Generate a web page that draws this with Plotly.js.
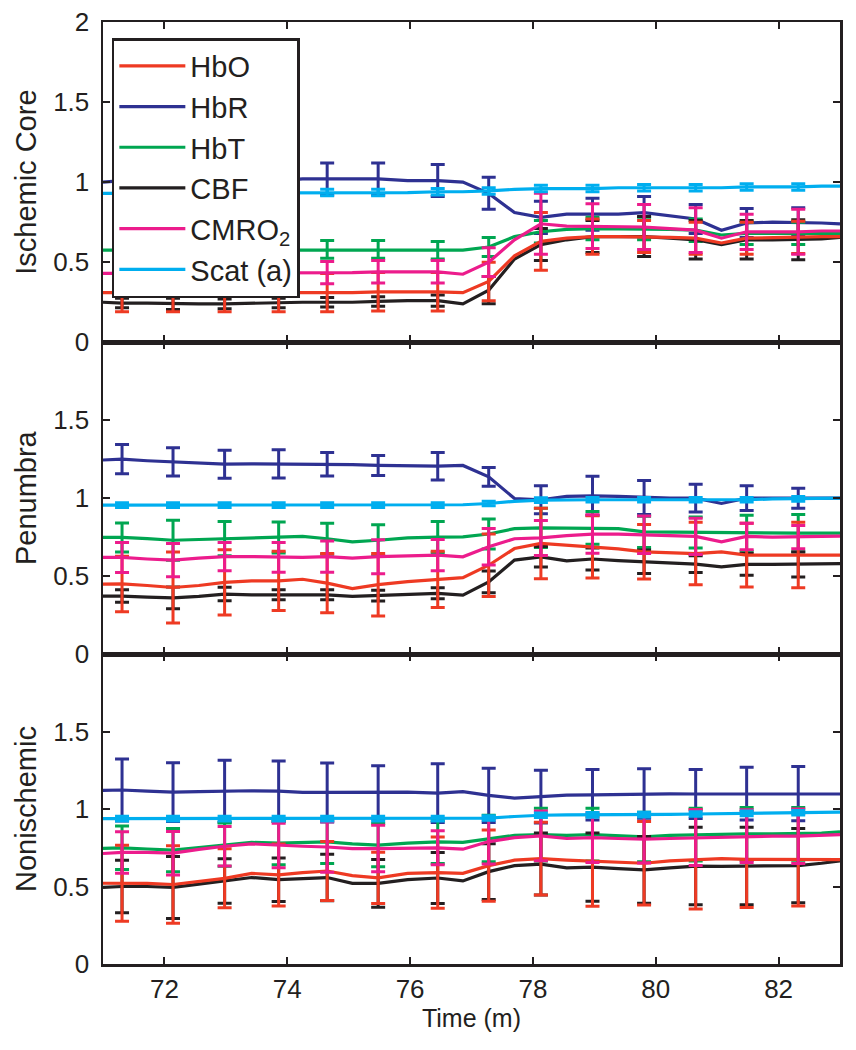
<!DOCTYPE html>
<html>
<head>
<meta charset="utf-8">
<script src="https://cdn.plot.ly/plotly-3.0.1.min.js"></script>
<style>
  body { margin: 0; background: #fff; }
  #chart { width: 856px; height: 1050px; }
</style>
</head>
<body>
<div id="chart"></div>
<script>
// time points (minutes); error bars sit on the odd indices
var times = [71.0, 71.31, 71.72, 72.14, 72.56, 72.98, 73.42, 73.86, 74.25, 74.65,
  75.06, 75.48, 75.96, 76.45, 76.86, 77.28, 77.7, 78.13, 78.55, 78.97,
  79.39, 79.81, 80.23, 80.65, 81.07, 81.48, 81.9, 82.32, 82.7, 83.0];

var seriesNames = ['HbO', 'HbR', 'HbT', 'CBF', 'CMRO<sub>2</sub>', 'Scat (a)'];
var seriesColors = ['#ee3a23', '#2e3192', '#00a651', '#231f20', '#ec1c8c', '#00aeef'];
var panelNames = ['Ischemic Core', 'Penumbra', 'Nonischemic'];

// ---- Ischemic core ----
var coreHbO = [0.31,0.31,0.31,0.31,0.31,0.31,0.31,0.31,0.31,0.31,0.31,0.315,0.315,0.315,0.31,0.38,0.54,0.63,0.65,0.66,0.66,0.66,0.655,0.65,0.62,0.65,0.655,0.655,0.66,0.66];
var coreHbR = [1.00,1.01,1.01,1.01,1.01,1.01,1.01,1.01,1.02,1.02,1.02,1.02,1.01,1.01,1.00,0.93,0.81,0.78,0.80,0.80,0.80,0.81,0.79,0.77,0.70,0.745,0.75,0.75,0.745,0.74];
var coreHbT = [0.575,0.575,0.575,0.575,0.575,0.575,0.575,0.575,0.575,0.58,0.58,0.58,0.575,0.575,0.575,0.595,0.66,0.69,0.705,0.71,0.71,0.71,0.705,0.70,0.67,0.68,0.68,0.68,0.68,0.68];
var coreCBF = [0.25,0.245,0.245,0.24,0.24,0.24,0.245,0.245,0.25,0.25,0.25,0.255,0.26,0.26,0.24,0.325,0.52,0.61,0.64,0.66,0.66,0.66,0.65,0.64,0.61,0.64,0.64,0.64,0.645,0.655];
var coreCMRO2 = [0.43,0.43,0.43,0.43,0.43,0.43,0.43,0.43,0.435,0.435,0.435,0.44,0.44,0.44,0.425,0.50,0.64,0.74,0.725,0.725,0.72,0.72,0.71,0.70,0.65,0.69,0.69,0.69,0.695,0.695];
var coreScat = [0.93,0.93,0.93,0.93,0.93,0.93,0.93,0.93,0.935,0.935,0.935,0.935,0.935,0.94,0.94,0.945,0.955,0.96,0.96,0.96,0.965,0.965,0.965,0.965,0.965,0.97,0.97,0.97,0.975,0.975];
var coreHbOErr = [0.12,0.12,0.12,0.12,0.12,0.12,0.12,0.12,0.18,0.11,0.10,0.10,0.10,0.10];
var coreHbRErr = [0.10,0.10,0.10,0.10,0.10,0.10,0.10,0.10,0.10,0.10,0.10,0.09,0.09,0.09];
var coreHbTErr = [0.055,0.055,0.055,0.055,0.055,0.055,0.055,0.06,0.07,0.07,0.07,0.07,0.07,0.07];
var coreCBFErr = [0.03,0.035,0.03,0.03,0.03,0.03,0.035,0.085,0.10,0.10,0.125,0.12,0.12,0.125];
var coreCMRO2Err = [0.07,0.07,0.07,0.07,0.07,0.07,0.07,0.09,0.19,0.14,0.14,0.14,0.11,0.14];
var coreScatErr = [0.02,0.02,0.02,0.02,0.02,0.02,0.02,0.02,0.02,0.02,0.02,0.02,0.02,0.02];

// ---- Penumbra ----
var penHbO = [0.449,0.45,0.44,0.427,0.44,0.46,0.47,0.47,0.48,0.455,0.42,0.445,0.465,0.479,0.49,0.57,0.677,0.71,0.70,0.688,0.675,0.656,0.65,0.645,0.655,0.635,0.635,0.635,0.635,0.635];
var penHbR = [1.245,1.25,1.24,1.233,1.225,1.218,1.22,1.22,1.22,1.218,1.215,1.21,1.205,1.205,1.21,1.137,0.998,0.99,1.012,1.015,1.012,1.004,1.0,1.0,0.966,1.0,1.0,1.0,1.0,1.0];
var penHbT = [0.748,0.748,0.74,0.73,0.735,0.74,0.745,0.748,0.755,0.74,0.72,0.73,0.745,0.75,0.752,0.77,0.805,0.81,0.81,0.81,0.805,0.784,0.782,0.78,0.78,0.775,0.776,0.776,0.776,0.776];
var penCBF = [0.372,0.372,0.365,0.36,0.37,0.385,0.38,0.38,0.38,0.38,0.37,0.375,0.385,0.39,0.378,0.463,0.603,0.624,0.598,0.61,0.60,0.592,0.585,0.577,0.56,0.575,0.575,0.575,0.58,0.58];
var penCMRO2 = [0.62,0.62,0.61,0.603,0.615,0.625,0.625,0.62,0.62,0.625,0.615,0.625,0.63,0.635,0.624,0.688,0.74,0.745,0.76,0.77,0.77,0.765,0.76,0.755,0.72,0.755,0.75,0.75,0.755,0.757];
var penScat = [0.955,0.955,0.955,0.955,0.955,0.955,0.955,0.955,0.955,0.955,0.955,0.955,0.955,0.955,0.958,0.966,0.98,0.987,0.99,0.99,0.99,0.99,0.99,0.99,0.985,0.99,0.995,0.995,1.0,1.0];
var penHbOErr = [0.178,0.227,0.21,0.19,0.19,0.2,0.18,0.2,0.226,0.2,0.175,0.2,0.205,0.21];
var penHbRErr = [0.094,0.09,0.09,0.09,0.075,0.064,0.088,0.06,0.09,0.125,0.109,0.089,0.079,0.064];
var penHbTErr = [0.093,0.128,0.11,0.1,0.1,0.1,0.1,0.096,0.126,0.105,0.1,0.1,0.115,0.12];
var penCBFErr = [0.04,0.07,0.043,0.032,0.032,0.034,0.035,0.07,0.066,0.07,0.075,0.053,0.07,0.08];
var penCMRO2Err = [0.096,0.107,0.09,0.095,0.1,0.109,0.1,0.117,0.112,0.123,0.12,0.117,0.085,0.075];
var penScatErr = [0.015,0.015,0.015,0.015,0.015,0.015,0.015,0.015,0.015,0.015,0.015,0.015,0.015,0.015];

// ---- Nonischemic ----
var nonHbO = [0.521,0.521,0.52,0.513,0.535,0.553,0.585,0.575,0.59,0.60,0.57,0.556,0.585,0.59,0.585,0.635,0.67,0.68,0.67,0.662,0.655,0.65,0.665,0.675,0.68,0.675,0.675,0.675,0.675,0.673];
var nonHbR = [1.12,1.123,1.115,1.109,1.112,1.115,1.118,1.115,1.108,1.107,1.108,1.109,1.109,1.103,1.112,1.088,1.071,1.08,1.09,1.092,1.095,1.1,1.098,1.097,1.097,1.1,1.1,1.1,1.1,1.097];
var nonHbT = [0.746,0.75,0.742,0.735,0.752,0.77,0.785,0.78,0.785,0.788,0.775,0.767,0.78,0.788,0.785,0.81,0.83,0.835,0.83,0.835,0.828,0.82,0.83,0.835,0.838,0.84,0.84,0.84,0.845,0.853];
var nonCBF = [0.494,0.50,0.50,0.494,0.515,0.536,0.558,0.544,0.55,0.558,0.52,0.52,0.545,0.555,0.536,0.596,0.635,0.645,0.62,0.625,0.615,0.607,0.62,0.632,0.63,0.632,0.635,0.635,0.65,0.665];
var nonCMRO2 = [0.713,0.72,0.72,0.715,0.74,0.76,0.775,0.765,0.76,0.755,0.745,0.745,0.75,0.75,0.741,0.79,0.815,0.827,0.81,0.815,0.81,0.806,0.81,0.815,0.82,0.825,0.825,0.825,0.83,0.835];
var nonScat = [0.938,0.938,0.938,0.938,0.938,0.938,0.938,0.938,0.938,0.938,0.938,0.938,0.938,0.938,0.938,0.942,0.952,0.96,0.962,0.962,0.963,0.964,0.966,0.968,0.97,0.972,0.974,0.976,0.978,0.98];
var nonHbOErr = [0.245,0.25,0.19,0.2,0.19,0.165,0.23,0.23,0.235,0.29,0.27,0.32,0.31,0.30];
var nonHbRErr = [0.20,0.189,0.20,0.195,0.19,0.171,0.19,0.175,0.17,0.163,0.16,0.158,0.17,0.175];
var nonHbTErr = [0.14,0.14,0.14,0.14,0.14,0.14,0.14,0.15,0.17,0.17,0.16,0.17,0.17,0.17];
var nonCBFErr = [0.17,0.20,0.144,0.14,0.15,0.154,0.165,0.18,0.20,0.22,0.215,0.25,0.25,0.24];
var nonCMRO2Err = [0.134,0.14,0.128,0.144,0.163,0.15,0.11,0.144,0.16,0.16,0.155,0.18,0.17,0.176];
var nonScatErr = [0.015,0.015,0.015,0.015,0.015,0.015,0.015,0.015,0.015,0.015,0.015,0.015,0.015,0.015];

var panels = [
  { axis: 'y3', xaxis: 'x3', values: [coreHbO, coreHbR, coreHbT, coreCBF, coreCMRO2, coreScat],
    errors: [coreHbOErr, coreHbRErr, coreHbTErr, coreCBFErr, coreCMRO2Err, coreScatErr] },
  { axis: 'y2', xaxis: 'x2', values: [penHbO, penHbR, penHbT, penCBF, penCMRO2, penScat],
    errors: [penHbOErr, penHbRErr, penHbTErr, penCBFErr, penCMRO2Err, penScatErr] },
  { axis: 'y', xaxis: 'x', values: [nonHbO, nonHbR, nonHbT, nonCBF, nonCMRO2, nonScat],
    errors: [nonHbOErr, nonHbRErr, nonHbTErr, nonCBFErr, nonCMRO2Err, nonScatErr] }
];

// spread the 14 error values over the odd time indices, NaN elsewhere
function expandErr(errs) {
  var out = times.map(function () { return NaN; });
  errs.forEach(function (e, k) { out[2 * k + 1] = e; });
  return out;
}

var data = [];
// draw order: put the pink and light blue on top like the original
var order = [1, 2, 3, 0, 4, 5];
panels.forEach(function (p, pi) {
  order.forEach(function (s) {
    data.push({
      type: 'scatter',
      mode: 'lines',
      x: times,
      y: p.values[s],
      xaxis: p.xaxis,
      yaxis: p.axis,
      name: seriesNames[s],
      legendrank: s + 1,
      showlegend: pi === 0,
      line: { color: seriesColors[s], width: 3.2 },
      error_y: {
        type: 'data',
        array: expandErr(p.errors[s]),
        color: seriesColors[s],
        thickness: 3,
        width: 7
      },
      hoverinfo: 'skip'
    });
  });
});

var tickFont = { family: 'Liberation Sans, Arial', size: 26, color: '#231f20' };
var titleFont = { family: 'Liberation Sans, Arial', size: 29, color: '#231f20' };

function xAxis(anchor, showLabels) {
  var ax = {
    anchor: anchor,
    domain: [0, 1],
    range: [71, 83],
    tickvals: [72, 74, 76, 78, 80, 82],
    ticks: 'inside',
    ticklen: 7,
    tickwidth: 2,
    tickcolor: '#231f20',
    showline: true,
    linewidth: 2.5,
    linecolor: '#231f20',
    mirror: 'ticks',
    showgrid: false,
    zeroline: false,
    showticklabels: showLabels,
    tickfont: tickFont
  };
  if (anchor !== 'y') ax.matches = 'x';
  return ax;
}

function yAxis(domain, title, tickvals) {
  return {
    domain: domain,
    range: [0, 2],
    tickvals: tickvals,
    ticktext: tickvals.map(function (v) { return String(v); }),
    ticks: 'inside',
    ticklen: 7,
    tickwidth: 2,
    tickcolor: '#231f20',
    showline: true,
    linewidth: 2.5,
    linecolor: '#231f20',
    mirror: 'ticks',
    showgrid: false,
    zeroline: false,
    tickfont: tickFont,
    ticklabelstandoff: 6,
    title: { text: title, font: titleFont, standoff: 8 }
  };
}

var layout = {
  width: 856,
  height: 1050,
  margin: { l: 103, r: 16, t: 22, b: 86 },
  paper_bgcolor: '#ffffff',
  plot_bgcolor: '#ffffff',
  showlegend: true,
  legend: {
    x: 0.012, y: 0.983,
    xanchor: 'left', yanchor: 'top',
    bgcolor: '#ffffff',
    bordercolor: '#231f20',
    borderwidth: 2.5,
    font: { family: 'Liberation Sans, Arial', size: 29, color: '#231f20' },
    tracegroupgap: 0,
    itemwidth: 66
  },
  xaxis: Object.assign(xAxis('y', true), { title: { text: 'Time (m)', font: { family: 'Liberation Sans, Arial', size: 25, color: '#231f20' }, standoff: 4 } }),
  xaxis2: xAxis('y2', false),
  xaxis3: xAxis('y3', false),
  yaxis: yAxis([0, 0.329], panelNames[2], [0, 0.5, 1, 1.5]),
  yaxis2: yAxis([0.329, 0.660], panelNames[1], [0, 0.5, 1, 1.5]),
  yaxis3: yAxis([0.660, 1], panelNames[0], [0, 0.5, 1, 1.5, 2])
};

Plotly.newPlot('chart', data, layout, { staticPlot: true });
</script>
</body>
</html>
